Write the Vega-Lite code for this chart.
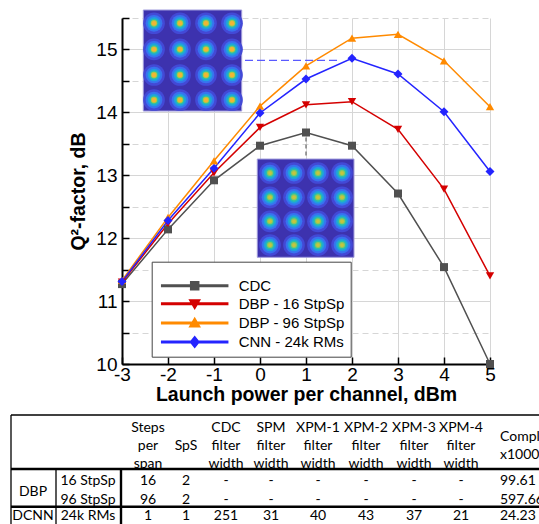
{
  "$schema": "https://vega.github.io/schema/vega-lite/v6.json",
  "width": 368,
  "height": 346,
  "autosize": {"type": "none"},
  "padding": {"left": 122, "top": 18, "right": 49, "bottom": 160},
  "background": "white",
  "config": {"view": {"stroke": null}},
  "datasets": {
    "series": [
      {"s": "CDC", "p": -3, "q": 11.27}, {"s": "CDC", "p": -2, "q": 12.14}, {"s": "CDC", "p": -1, "q": 12.92},
      {"s": "CDC", "p": 0, "q": 13.47}, {"s": "CDC", "p": 1, "q": 13.68}, {"s": "CDC", "p": 2, "q": 13.47},
      {"s": "CDC", "p": 3, "q": 12.71}, {"s": "CDC", "p": 4, "q": 11.54}, {"s": "CDC", "p": 5, "q": 10.0},
      {"s": "DBP - 16 StpSp", "p": -3, "q": 11.3}, {"s": "DBP - 16 StpSp", "p": -2, "q": 12.23}, {"s": "DBP - 16 StpSp", "p": -1, "q": 13.04},
      {"s": "DBP - 16 StpSp", "p": 0, "q": 13.76}, {"s": "DBP - 16 StpSp", "p": 1, "q": 14.12}, {"s": "DBP - 16 StpSp", "p": 2, "q": 14.17},
      {"s": "DBP - 16 StpSp", "p": 3, "q": 13.73}, {"s": "DBP - 16 StpSp", "p": 4, "q": 12.78}, {"s": "DBP - 16 StpSp", "p": 5, "q": 11.4},
      {"s": "DBP - 96 StpSp", "p": -3, "q": 11.33}, {"s": "DBP - 96 StpSp", "p": -2, "q": 12.33}, {"s": "DBP - 96 StpSp", "p": -1, "q": 13.23},
      {"s": "DBP - 96 StpSp", "p": 0, "q": 14.1}, {"s": "DBP - 96 StpSp", "p": 1, "q": 14.74}, {"s": "DBP - 96 StpSp", "p": 2, "q": 15.18},
      {"s": "DBP - 96 StpSp", "p": 3, "q": 15.24}, {"s": "DBP - 96 StpSp", "p": 4, "q": 14.82}, {"s": "DBP - 96 StpSp", "p": 5, "q": 14.09},
      {"s": "CNN - 24k RMs", "p": -3, "q": 11.31}, {"s": "CNN - 24k RMs", "p": -2, "q": 12.28}, {"s": "CNN - 24k RMs", "p": -1, "q": 13.11},
      {"s": "CNN - 24k RMs", "p": 0, "q": 13.99}, {"s": "CNN - 24k RMs", "p": 1, "q": 14.53}, {"s": "CNN - 24k RMs", "p": 2, "q": 14.86},
      {"s": "CNN - 24k RMs", "p": 3, "q": 14.61}, {"s": "CNN - 24k RMs", "p": 4, "q": 14.01}, {"s": "CNN - 24k RMs", "p": 5, "q": 13.06}
    ],
    "insets": [
      {"img": "A", "x1": -2.537, "x2": -0.398, "y1": 14.021, "y2": 15.627},
      {"img": "B", "x1": -0.059, "x2": 2.043, "y1": 11.696, "y2": 13.258}
    ],
    "blobs": [
      {"img": "A", "x": -2.304, "y": 15.416}, {"img": "A", "x": -1.739, "y": 15.416}, {"img": "A", "x": -1.174, "y": 15.416}, {"img": "A", "x": -0.609, "y": 15.416},
      {"img": "A", "x": -2.304, "y": 15.002}, {"img": "A", "x": -1.739, "y": 15.002}, {"img": "A", "x": -1.174, "y": 15.002}, {"img": "A", "x": -0.609, "y": 15.002},
      {"img": "A", "x": -2.304, "y": 14.594}, {"img": "A", "x": -1.739, "y": 14.594}, {"img": "A", "x": -1.174, "y": 14.594}, {"img": "A", "x": -0.609, "y": 14.594},
      {"img": "A", "x": -2.304, "y": 14.196}, {"img": "A", "x": -1.739, "y": 14.196}, {"img": "A", "x": -1.174, "y": 14.196}, {"img": "A", "x": -0.609, "y": 14.196},
      {"img": "B", "x": 0.217, "y": 13.036}, {"img": "B", "x": 0.739, "y": 13.036}, {"img": "B", "x": 1.261, "y": 13.036}, {"img": "B", "x": 1.783, "y": 13.036},
      {"img": "B", "x": 0.217, "y": 12.649}, {"img": "B", "x": 0.739, "y": 12.649}, {"img": "B", "x": 1.261, "y": 12.649}, {"img": "B", "x": 1.783, "y": 12.649},
      {"img": "B", "x": 0.217, "y": 12.268}, {"img": "B", "x": 0.739, "y": 12.268}, {"img": "B", "x": 1.261, "y": 12.268}, {"img": "B", "x": 1.783, "y": 12.268},
      {"img": "B", "x": 0.217, "y": 11.891}, {"img": "B", "x": 0.739, "y": 11.891}, {"img": "B", "x": 1.261, "y": 11.891}, {"img": "B", "x": 1.783, "y": 11.891}
    ],
    "guides": [
      {"g": "blue", "x1": -0.326, "x2": 1.702, "y1": 14.827, "y2": 14.827},
      {"g": "gray", "x1": 1, "x2": 1, "y1": 13.6, "y2": 13.27}
    ],
    "tabletext": [
      {"c": 2, "r": 0, "t": "Steps\nper\nspan"}, {"c": 3, "r": 0, "t": "SpS"}, {"c": 4, "r": 0, "t": "CDC\nfilter\nwidth"},
      {"c": 5, "r": 0, "t": "SPM\nfilter\nwidth"}, {"c": 6, "r": 0, "t": "XPM-1\nfilter\nwidth"}, {"c": 7, "r": 0, "t": "XPM-2\nfilter\nwidth"},
      {"c": 8, "r": 0, "t": "XPM-3\nfilter\nwidth"}, {"c": 9, "r": 0, "t": "XPM-4\nfilter\nwidth"}, {"c": 10, "r": 0, "t": "Complexity\nx1000"},
      {"c": 0, "r": 1.5, "t": "DBP"},
      {"c": 1, "r": 1, "t": "16 StpSp"}, {"c": 2, "r": 1, "t": "16"}, {"c": 3, "r": 1, "t": "2"}, {"c": 4, "r": 1, "t": "-"}, {"c": 5, "r": 1, "t": "-"},
      {"c": 6, "r": 1, "t": "-"}, {"c": 7, "r": 1, "t": "-"}, {"c": 8, "r": 1, "t": "-"}, {"c": 9, "r": 1, "t": "-"}, {"c": 10, "r": 1, "t": "99.61"},
      {"c": 1, "r": 2, "t": "96 StpSp"}, {"c": 2, "r": 2, "t": "96"}, {"c": 3, "r": 2, "t": "2"}, {"c": 4, "r": 2, "t": "-"}, {"c": 5, "r": 2, "t": "-"},
      {"c": 6, "r": 2, "t": "-"}, {"c": 7, "r": 2, "t": "-"}, {"c": 8, "r": 2, "t": "-"}, {"c": 9, "r": 2, "t": "-"}, {"c": 10, "r": 2, "t": "597.66"},
      {"c": 0, "r": 3, "t": "DCNN"}, {"c": 1, "r": 3, "t": "24k RMs"}, {"c": 2, "r": 3, "t": "1"}, {"c": 3, "r": 3, "t": "1"}, {"c": 4, "r": 3, "t": "251"},
      {"c": 5, "r": 3, "t": "31"}, {"c": 6, "r": 3, "t": "40"}, {"c": 7, "r": 3, "t": "43"}, {"c": 8, "r": 3, "t": "37"}, {"c": 9, "r": 3, "t": "21"}, {"c": 10, "r": 3, "t": "24.23"}
    ],
    "tablelines": [
      {"k": "thin", "c1": -0.5, "c2": 11, "r1": -0.5, "r2": -0.5},
      {"k": "thin", "c1": -0.5, "c2": -0.5, "r1": -0.5, "r2": 3.5},
      {"k": "thick", "c1": -0.5, "c2": 11, "r1": 0.5, "r2": 0.5},
      {"k": "thin", "c1": 0.5, "c2": 0.5, "r1": 0.5, "r2": 3.5},
      {"k": "thick", "c1": 1.5, "c2": 1.5, "r1": 0.5, "r2": 3.5},
      {"k": "thick", "c1": -0.5, "c2": 11, "r1": 2.5, "r2": 2.5}
    ]
  },
  "layer": [
    {
      "data": {"name": "insets"},
      "mark": {"type": "rect", "fill": "#3d32ae", "stroke": "#a09cdc", "strokeWidth": 1},
      "encoding": {
        "x": {"field": "x1", "type": "quantitative", "scale": {"domain": [-3, 5], "nice": false, "zero": false}, "axis": null},
        "x2": {"field": "x2"},
        "y": {"field": "y1", "type": "quantitative", "scale": {"domain": [10, 15.5], "nice": false, "zero": false}, "axis": null},
        "y2": {"field": "y2"}
      }
    },
    {
      "data": {"name": "blobs"},
      "mark": {"type": "circle", "opacity": 1, "size": 470, "color": "#4349d6"},
      "encoding": {
        "x": {"field": "x", "type": "quantitative", "scale": {"domain": [-3, 5], "nice": false, "zero": false}, "axis": null},
        "y": {"field": "y", "type": "quantitative", "scale": {"domain": [10, 15.5], "nice": false, "zero": false}, "axis": null}
      }
    },
    {
      "data": {"name": "blobs"},
      "mark": {"type": "circle", "opacity": 1, "size": 280, "color": "#3873ef"},
      "encoding": {
        "x": {"field": "x", "type": "quantitative", "scale": {"domain": [-3, 5], "nice": false, "zero": false}, "axis": null},
        "y": {"field": "y", "type": "quantitative", "scale": {"domain": [10, 15.5], "nice": false, "zero": false}, "axis": null}
      }
    },
    {
      "data": {"name": "blobs"},
      "mark": {"type": "circle", "opacity": 1, "size": 160, "color": "#1f9fdf"},
      "encoding": {
        "x": {"field": "x", "type": "quantitative", "scale": {"domain": [-3, 5], "nice": false, "zero": false}, "axis": null},
        "y": {"field": "y", "type": "quantitative", "scale": {"domain": [10, 15.5], "nice": false, "zero": false}, "axis": null}
      }
    },
    {
      "data": {"name": "blobs"},
      "mark": {"type": "circle", "opacity": 1, "size": 82, "color": "#2abfa8"},
      "encoding": {
        "x": {"field": "x", "type": "quantitative", "scale": {"domain": [-3, 5], "nice": false, "zero": false}, "axis": null},
        "y": {"field": "y", "type": "quantitative", "scale": {"domain": [10, 15.5], "nice": false, "zero": false}, "axis": null}
      }
    },
    {
      "data": {"name": "blobs"},
      "mark": {"type": "circle", "opacity": 1},
      "encoding": {
        "x": {"field": "x", "type": "quantitative", "scale": {"domain": [-3, 5], "nice": false, "zero": false}, "axis": null},
        "y": {"field": "y", "type": "quantitative", "scale": {"domain": [10, 15.5], "nice": false, "zero": false}, "axis": null},
        "color": {"condition": {"test": "datum.img === 'A'", "value": "#a8c84a"}, "value": "#8cc85e"},
        "size": {"condition": {"test": "datum.img === 'A'", "value": 40}, "value": 36}
      }
    },
    {
      "data": {"name": "blobs"},
      "mark": {"type": "circle", "opacity": 1},
      "encoding": {
        "x": {"field": "x", "type": "quantitative", "scale": {"domain": [-3, 5], "nice": false, "zero": false}, "axis": null},
        "y": {"field": "y", "type": "quantitative", "scale": {"domain": [10, 15.5], "nice": false, "zero": false}, "axis": null},
        "color": {"condition": {"test": "datum.img === 'A'", "value": "#f2b533"}, "value": "#c6c43e"},
        "size": {"condition": {"test": "datum.img === 'A'", "value": 20}, "value": 14}
      }
    },
    {
      "data": {"name": "guides"},
      "transform": [{"filter": "datum.g === 'blue'"}],
      "mark": {"type": "rule", "stroke": "#5a5aff", "strokeWidth": 1.2, "strokeDash": [8, 4]},
      "encoding": {
        "x": {"field": "x1", "type": "quantitative", "scale": {"domain": [-3, 5], "nice": false, "zero": false}, "axis": null},
        "x2": {"field": "x2"},
        "y": {"field": "y1", "type": "quantitative", "scale": {"domain": [10, 15.5], "nice": false, "zero": false}, "axis": null},
        "y2": {"field": "y2"}
      }
    },
    {
      "data": {"name": "guides"},
      "transform": [{"filter": "datum.g === 'gray'"}],
      "mark": {"type": "rule", "stroke": "#666666", "strokeWidth": 1.2, "strokeDash": [4, 3]},
      "encoding": {
        "x": {"field": "x1", "type": "quantitative", "scale": {"domain": [-3, 5], "nice": false, "zero": false}, "axis": null},
        "x2": {"field": "x2"},
        "y": {"field": "y1", "type": "quantitative", "scale": {"domain": [10, 15.5], "nice": false, "zero": false}, "axis": null},
        "y2": {"field": "y2"}
      }
    },
    {
      "data": {"name": "series"},
      "mark": {"type": "line", "strokeWidth": 1.5},
      "encoding": {
        "x": {
          "field": "p", "type": "quantitative",
          "scale": {"domain": [-3, 5], "nice": false, "zero": false},
          "axis": {
            "title": "Launch power per channel, dBm",
            "values": [-3, -2, -1, 0, 1, 2, 3, 4, 5],
            "labelExpr": "'' + datum.value",
            "labelFlush": false, "labelOverlap": false,
            "grid": true, "gridColor": "#d6d6d6", "gridWidth": 1,
            "domainColor": "#000000", "domainWidth": 2,
            "ticks": true, "tickSize": -7, "tickColor": "#000000", "tickWidth": 1.5,
            "labelFont": "Liberation Sans", "labelFontSize": 19, "labelColor": "#000000", "labelPadding": 8,
            "titleFont": "Liberation Sans", "titleFontSize": 19.5, "titleFontWeight": "bold", "titleColor": "#000000", "titlePadding": 1
          }
        },
        "y": {
          "field": "q", "type": "quantitative",
          "scale": {"domain": [10, 15.5], "nice": false, "zero": false},
          "axis": {
            "title": "Q²-factor, dB",
            "values": [10, 10.5, 11, 11.5, 12, 12.5, 13, 13.5, 14, 14.5, 15, 15.5],
            "labelExpr": "datum.value % 1 === 0 ? '' + datum.value : ''",
            "labelFlush": false, "labelOverlap": false,
            "grid": true, "gridColor": "#d6d6d6", "gridWidth": 1,
            "gridDash": {"condition": {"test": "datum.value % 1 !== 0", "value": [6, 4]}, "value": []},
            "domainColor": "#000000", "domainWidth": 2,
            "ticks": true, "tickSize": -7,
            "tickColor": "#000000", "tickWidth": 1.5,
            "labelFont": "Liberation Sans", "labelFontSize": 19, "labelColor": "#000000", "labelPadding": 12,
            "titleFont": "Liberation Sans", "titleFontSize": 19.5, "titleFontWeight": "bold", "titleColor": "#000000", "titlePadding": 7
          }
        },
        "color": {
          "field": "s", "type": "nominal",
          "scale": {"domain": ["CDC", "DBP - 16 StpSp", "DBP - 96 StpSp", "CNN - 24k RMs"], "range": ["#505050", "#d40000", "#ff8a00", "#2424ff"]},
          "legend": {
            "orient": "none", "legendX": 29.7, "legendY": 243.7, "title": " ",
            "titleFontSize": 10, "titlePadding": 0.5,
            "padding": 6, "strokeColor": "#444444", "fillColor": "#ffffff", "cornerRadius": 0,
            "labelFont": "Liberation Sans", "labelFontSize": 15, "labelColor": "#000000", "labelLimit": 0,
            "symbolSize": 100, "symbolOffset": 29.5, "labelOffset": 36.5, "rowPadding": 2.1,
            "encode": {
              "symbols": {
                "update": {
                  "shape": {"signal": "datum.value === 'CDC' ? 'M-6.6,-0.15L6.6,-0.15L6.6,0.15L-6.6,0.15ZM-0.8,-0.8L0.8,-0.8L0.8,0.8L-0.8,0.8Z' : datum.value === 'DBP - 16 StpSp' ? 'M-6.6,-0.15L6.6,-0.15L6.6,0.15L-6.6,0.15ZM-1,-0.75L1,-0.75L0,0.95Z' : datum.value === 'DBP - 96 StpSp' ? 'M-6.6,-0.15L6.6,-0.15L6.6,0.15L-6.6,0.15ZM-1,0.75L1,0.75L0,-0.95Z' : 'M-6.6,-0.15L6.6,-0.15L6.6,0.15L-6.6,0.15ZM0,-1.05L0.85,0L0,1.05L-0.85,0Z'"},
                  "fill": {"scale": "color", "field": "value"},
                  "stroke": {"value": "transparent"},
                  "opacity": {"value": 1}
                }
              }
            }
          }
        }
      }
    },
    {
      "data": {"name": "series"},
      "transform": [{"filter": "datum.s === 'CDC'"}],
      "mark": {"type": "point", "shape": "square", "filled": true, "opacity": 1, "size": 64},
      "encoding": {
        "x": {"field": "p", "type": "quantitative", "scale": {"domain": [-3, 5], "nice": false, "zero": false}, "axis": null},
        "y": {"field": "q", "type": "quantitative", "scale": {"domain": [10, 15.5], "nice": false, "zero": false}, "axis": null},
        "color": {"field": "s", "type": "nominal", "scale": {"domain": ["CDC", "DBP - 16 StpSp", "DBP - 96 StpSp", "CNN - 24k RMs"], "range": ["#505050", "#d40000", "#ff8a00", "#2424ff"]}, "legend": null}
      }
    },
    {
      "data": {"name": "series"},
      "transform": [{"filter": "datum.s === 'DBP - 16 StpSp'"}],
      "mark": {"type": "point", "shape": "triangle-down", "filled": true, "opacity": 1, "size": 70},
      "encoding": {
        "x": {"field": "p", "type": "quantitative", "scale": {"domain": [-3, 5], "nice": false, "zero": false}, "axis": null},
        "y": {"field": "q", "type": "quantitative", "scale": {"domain": [10, 15.5], "nice": false, "zero": false}, "axis": null},
        "color": {"field": "s", "type": "nominal", "scale": {"domain": ["CDC", "DBP - 16 StpSp", "DBP - 96 StpSp", "CNN - 24k RMs"], "range": ["#505050", "#d40000", "#ff8a00", "#2424ff"]}, "legend": null}
      }
    },
    {
      "data": {"name": "series"},
      "transform": [{"filter": "datum.s === 'DBP - 96 StpSp'"}],
      "mark": {"type": "point", "shape": "triangle-up", "filled": true, "opacity": 1, "size": 70},
      "encoding": {
        "x": {"field": "p", "type": "quantitative", "scale": {"domain": [-3, 5], "nice": false, "zero": false}, "axis": null},
        "y": {"field": "q", "type": "quantitative", "scale": {"domain": [10, 15.5], "nice": false, "zero": false}, "axis": null},
        "color": {"field": "s", "type": "nominal", "scale": {"domain": ["CDC", "DBP - 16 StpSp", "DBP - 96 StpSp", "CNN - 24k RMs"], "range": ["#505050", "#d40000", "#ff8a00", "#2424ff"]}, "legend": null}
      }
    },
    {
      "data": {"name": "series"},
      "transform": [{"filter": "datum.s === 'CNN - 24k RMs'"}],
      "mark": {"type": "point", "shape": "diamond", "filled": true, "opacity": 1, "size": 80},
      "encoding": {
        "x": {"field": "p", "type": "quantitative", "scale": {"domain": [-3, 5], "nice": false, "zero": false}, "axis": null},
        "y": {"field": "q", "type": "quantitative", "scale": {"domain": [10, 15.5], "nice": false, "zero": false}, "axis": null},
        "color": {"field": "s", "type": "nominal", "scale": {"domain": ["CDC", "DBP - 16 StpSp", "DBP - 96 StpSp", "CNN - 24k RMs"], "range": ["#505050", "#d40000", "#ff8a00", "#2424ff"]}, "legend": null}
      }
    },
    {
      "data": {"name": "tablelines"},
      "transform": [{"filter": "datum.k === 'thin'"}],
      "mark": {"type": "rule", "stroke": "#000000", "strokeWidth": 1.3},
      "encoding": {
        "x": {"field": "c1", "type": "quantitative", "axis": null, "scale": {"domain": [-0.5, 0, 0.5, 1, 1.5, 2, 3, 4, 5, 6, 7, 8, 9, 10, 11], "range": [-111, -89, -66, -34, -1, 26, 64, 104, 149, 196, 244, 292, 339, 378, 438], "nice": false, "zero": false}},
        "x2": {"field": "c2"},
        "y": {"field": "r1", "type": "quantitative", "axis": null, "scale": {"domain": [-0.5, 0, 0.5, 1, 1.5, 2, 2.5, 3, 3.5], "range": [397, 428, 451, 463.3, 473.7, 481.7, 488.7, 497.7, 515], "nice": false, "zero": false}},
        "y2": {"field": "r2"}
      }
    },
    {
      "data": {"name": "tablelines"},
      "transform": [{"filter": "datum.k === 'thick'"}],
      "mark": {"type": "rule", "stroke": "#000000", "strokeWidth": 2.4},
      "encoding": {
        "x": {"field": "c1", "type": "quantitative", "axis": null, "scale": {"domain": [-0.5, 0, 0.5, 1, 1.5, 2, 3, 4, 5, 6, 7, 8, 9, 10, 11], "range": [-111, -89, -66, -34, -1, 26, 64, 104, 149, 196, 244, 292, 339, 378, 438], "nice": false, "zero": false}},
        "x2": {"field": "c2"},
        "y": {"field": "r1", "type": "quantitative", "axis": null, "scale": {"domain": [-0.5, 0, 0.5, 1, 1.5, 2, 2.5, 3, 3.5], "range": [397, 428, 451, 463.3, 473.7, 481.7, 488.7, 497.7, 515], "nice": false, "zero": false}},
        "y2": {"field": "r2"}
      }
    },
    {
      "data": {"name": "tabletext"},
      "transform": [{"filter": "datum.c < 10 && (datum.r > 0 || datum.c === 3)"}],
      "mark": {"type": "text", "font": "Lato", "fontSize": 14, "color": "#000000", "align": "center", "baseline": "middle"},
      "encoding": {
        "x": {"field": "c", "type": "quantitative", "axis": null, "scale": {"domain": [-0.5, 0, 0.5, 1, 1.5, 2, 3, 4, 5, 6, 7, 8, 9, 10, 11], "range": [-111, -89, -66, -34, -1, 26, 64, 104, 149, 196, 244, 292, 339, 378, 438], "nice": false, "zero": false}},
        "y": {"field": "r", "type": "quantitative", "axis": null, "scale": {"domain": [-0.5, 0, 0.5, 1, 1.5, 2, 2.5, 3, 3.5], "range": [397, 428, 451, 463.3, 473.7, 481.7, 488.7, 497.7, 515], "nice": false, "zero": false}},
        "text": {"field": "t"}
      }
    },
    {
      "data": {"name": "tabletext"},
      "transform": [{"filter": "datum.c < 10 && datum.r === 0 && datum.c !== 3"}],
      "mark": {"type": "text", "font": "Lato", "fontSize": 14, "color": "#000000", "align": "center", "baseline": "middle", "lineBreak": "\n", "lineHeight": 17.8, "dy": -17.8},
      "encoding": {
        "x": {"field": "c", "type": "quantitative", "axis": null, "scale": {"domain": [-0.5, 0, 0.5, 1, 1.5, 2, 3, 4, 5, 6, 7, 8, 9, 10, 11], "range": [-111, -89, -66, -34, -1, 26, 64, 104, 149, 196, 244, 292, 339, 378, 438], "nice": false, "zero": false}},
        "y": {"field": "r", "type": "quantitative", "axis": null, "scale": {"domain": [-0.5, 0, 0.5, 1, 1.5, 2, 2.5, 3, 3.5], "range": [397, 428, 451, 463.3, 473.7, 481.7, 488.7, 497.7, 515], "nice": false, "zero": false}},
        "text": {"field": "t"}
      }
    },
    {
      "data": {"name": "tabletext"},
      "transform": [{"filter": "datum.c >= 10 && datum.r > 0"}],
      "mark": {"type": "text", "font": "Lato", "fontSize": 14, "color": "#000000", "align": "left", "baseline": "middle"},
      "encoding": {
        "x": {"field": "c", "type": "quantitative", "axis": null, "scale": {"domain": [-0.5, 0, 0.5, 1, 1.5, 2, 3, 4, 5, 6, 7, 8, 9, 10, 11], "range": [-111, -89, -66, -34, -1, 26, 64, 104, 149, 196, 244, 292, 339, 378, 438], "nice": false, "zero": false}},
        "y": {"field": "r", "type": "quantitative", "axis": null, "scale": {"domain": [-0.5, 0, 0.5, 1, 1.5, 2, 2.5, 3, 3.5], "range": [397, 428, 451, 463.3, 473.7, 481.7, 488.7, 497.7, 515], "nice": false, "zero": false}},
        "text": {"field": "t"}
      }
    },
    {
      "data": {"name": "tabletext"},
      "transform": [{"filter": "datum.c >= 10 && datum.r === 0"}],
      "mark": {"type": "text", "font": "Lato", "fontSize": 14, "color": "#000000", "align": "left", "baseline": "middle", "lineBreak": "\n", "lineHeight": 18.7, "dy": -9.3},
      "encoding": {
        "x": {"field": "c", "type": "quantitative", "axis": null, "scale": {"domain": [-0.5, 0, 0.5, 1, 1.5, 2, 3, 4, 5, 6, 7, 8, 9, 10, 11], "range": [-111, -89, -66, -34, -1, 26, 64, 104, 149, 196, 244, 292, 339, 378, 438], "nice": false, "zero": false}},
        "y": {"field": "r", "type": "quantitative", "axis": null, "scale": {"domain": [-0.5, 0, 0.5, 1, 1.5, 2, 2.5, 3, 3.5], "range": [397, 428, 451, 463.3, 473.7, 481.7, 488.7, 497.7, 515], "nice": false, "zero": false}},
        "text": {"field": "t"}
      }
    }
  ],
  "resolve": {"scale": {"x": "independent", "y": "independent"}}
}
